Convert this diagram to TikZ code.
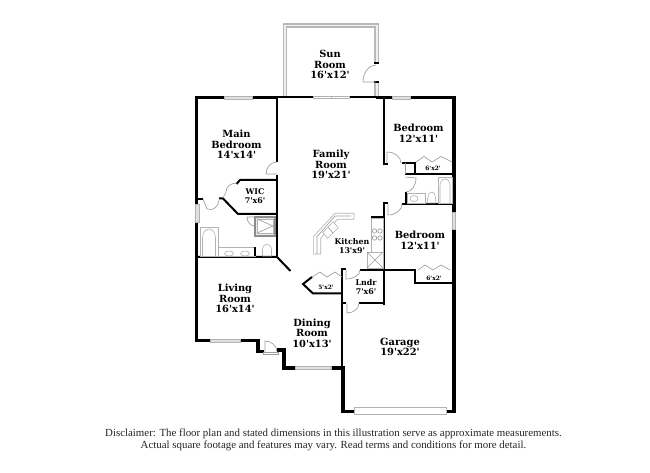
\documentclass[tikz,border=0pt]{standalone}
\usepackage{fontspec}
\newfontfamily\labfont{DejaVu Serif}
\newfontfamily\discfont{Liberation Serif}
\tikzset{
  x=0.75pt,y=-0.75pt,
  heavy/.style={line width=2.4pt,black,line cap=butt},
  medium/.style={line width=1.5pt,black,line cap=butt,line join=miter},
  thin wall/.style={line width=1.1pt,black},
  glaze/.style={draw=black!30,fill=black!12,line width=0.4pt},
  fixture/.style={draw=black!30,line width=0.45pt,fill=white},
  door/.style={draw=black!38,line width=0.5pt},
  gwall/.style={draw=black!28,line width=3.6pt,line join=miter},
  gcore/.style={draw=black!6,line width=1.4pt,line join=miter},
  lab/.style={font=\labfont\fontsize{7.4pt}{7.9pt}\selectfont\bfseries,align=center,inner sep=0pt},
  smalllab/.style={font=\labfont\fontsize{5.9pt}{6.8pt}\selectfont\bfseries,align=center,inner sep=0pt},
  tinylab/.style={font=\labfont\fontsize{4.4pt}{5pt}\selectfont\bfseries,align=center,inner sep=0pt},
  disc/.style={font=\discfont\fontsize{8.15pt}{9pt}\selectfont,text=black!85,anchor=center,inner sep=0pt}
}
\begin{document}
\begin{tikzpicture}
\useasboundingbox (0,0) rectangle (650,473);
\fill[white] (0,0) rectangle (650,473);
% sun room
\draw[gwall] (285,97)--(285,25.5)--(376.7,25.5)--(376.7,97);
\draw[gcore] (285,97)--(285,25.5)--(376.7,25.5)--(376.7,97);
\fill[white] (373.5,63) rectangle (380,82);
\draw[medium] (374,63)--(379,63) (374,82)--(379,82);
\draw[door] (376,82)--(363,82) (363,82) arc (-180:-90:13 and 17);
% outer walls
\draw[heavy] (277,97.5)--(196.5,97.5)--(196.5,342);
\draw[heavy] (376,97.5)--(454,97.5)--(454,413);
\draw[heavy] (196.5,340.5)--(258,340.5)--(258,351.5)--(264,351.5);
\draw[heavy] (277,350)--(284,350)--(284,368)--(296,368);
\draw[heavy] (330,368)--(343,368);
\draw[heavy] (343,366)--(343,411.5)--(355,411.5);
\draw[heavy] (445,411.5)--(455,411.5);
\draw[medium] (277,97.5)--(313,97.5) (349,97.5)--(376,97.5);
% windows and doors in the shell
\draw[glaze] (224,96) rectangle (252,99);
\draw[glaze] (392,96) rectangle (410,99);
\draw[glaze] (195.5,204) rectangle (199,222);
\draw[glaze] (452.5,212) rectangle (455.5,229);
\draw[glaze] (210,339) rectangle (240,342);
\draw[glaze] (295,366.5) rectangle (331,369.5);
\draw[fixture,fill=white] (354,407) rectangle (446,414);
\draw[draw=black!30,fill=white,line width=0.4pt] (313,96.5) rectangle (331,98.5);
\draw[draw=black!30,fill=white,line width=0.4pt] (331,96.5) rectangle (349,98.5);
\draw[door,fill=white] (263,352) rectangle (278,354);
\draw[door] (265,352)--(265,341) (265,341) arc (-90:0:12 and 11);
% family/main bedroom partition
\draw[thin wall] (277,97)--(277,162) (277,175)--(277,257);
\draw[door] (277,162) arc (-90:-180:11 and 12)--(277,174);
\draw[medium] (196,257)--(277,257)--(290.5,271);
% WIC
\draw[medium] (277,180)--(240,180)--(236.5,184);
\draw[medium] (277,214)--(238,214)--(223,198.5)--(219,198.5);
\draw[medium] (198,199)--(203,199);
\draw[door] (203,199)--(207,209) arc (-250:-350:9 and 11);
\draw[door] (237,183) .. controls (230,183) and (226,187) .. (226,192)--(223,198);
% bath
\draw[fixture] (200,227) rectangle (218,256);
\draw[fixture] (202.5,256)--(202.5,238) arc (-180:0:6.5 and 9)--(215.5,256);
\draw[fixture] (218,247) rectangle (255,256);
\draw[fixture] (229,253.5) ellipse (4.5 and 2.5) (245,253.5) ellipse (4.5 and 2.5);
\draw[medium] (255,247)--(255,256.5);
\draw[fixture] (262.5,256)--(262.5,250) arc (-180:0:4.5 and 6)--(271.5,256)--cycle;
\draw[draw=black!45,fill=black!8,line width=0.9pt] (255,217) rectangle (275,236);
\draw[fixture] (257,219) rectangle (273,233);
\draw[door] (257,219)--(273,226)--(257,233);
\draw[door] (247,217)--(255,217) (247,217) arc (-180:-270:8 and 9);
% right partition
\draw[medium] (383.5,97)--(383.5,164) (383.5,202)--(383.5,305);
\draw[medium] (383,164.5)--(388,164.5) (383,203.5)--(388,203.5);
\draw[door] (387,163)--(387,152) (387,152) arc (-90:0:14 and 11);
% upper closet and bath
\draw[medium] (401.5,162.7)--(415,162.7)--(415,174.5);
\draw[medium] (405,174.5)--(455,174.5);
\draw[medium] (406,192)--(406,204.5);
\draw[medium] (402,204.5)--(455,204.5);
\draw[door] (405,162.7) -- (405,174);
\draw[door] (405.5,177)--(416,178) arc (0:90:10 and 14);
\draw[door] (416,162)--(424,156.5)--(432,162)--(441,156.5)--(452,162);
\node[tinylab] (closeta) at (433,168.5) {6'x2'};
\draw[fixture] (438,177) rectangle (452,203);
\draw[fixture] (440,203)--(440,186) arc (-180:0:5 and 7)--(450,203);
\draw[fixture] (407.5,193) rectangle (425,203);
\draw[fixture] (414,198.5) ellipse (4 and 3);
\draw[fixture] (427,203)--(428,197) arc (-180:0:3.7 and 5)--(436,203)--cycle;
\draw[door] (388,204.5)--(388,215) arc (-270:-360:14 and 11);
% kitchen
\draw[medium] (371,217)--(384,217);
\draw[fixture] (371,218) rectangle (383,252);
\foreach \cx/\cy in {374.5/231,380/231,374.5/238,380/238}{\draw[door] (\cx,\cy) circle (2.2);}
\draw[fixture] (367,252) rectangle (383,268);
\draw[door] (367,252)--(383,268) (367,268)--(383,252);
\draw[fixture] (335,213.3)--(354,213.3)--(354,219.3)--(337.3,219.3)--(320.7,238.3)--(320.7,254)--(313.3,254)--(313.3,236.7)--cycle;
\draw[door] (335,216)--(351,216) (335,216)--(317,236.7)--(317,254);
\draw[fixture] (322.7,232.7)--(333.3,221.7)--(338.3,227.7)--(327.7,238.3)--cycle;
\draw[door] (328,227.2)--(333,233);
% laundry
\draw[medium] (342,268.5)--(342,367);
\draw[medium] (342,269.5)--(346,269.5) (360,270)--(415,270)--(415,283)--(455,283);
\draw[door] (346,269.5)--(346,279) arc (-270:-360:14 and 9);
\draw[door] (418,270)--(425,265)--(433,270)--(441,265)--(450,270);
\node[tinylab] (closetb) at (434,278) {6'x2'};
\draw[medium] (342,303.5)--(346,303.5) (359,303.5)--(384,303.5);
\draw[door] (347,303.5)--(347,313) arc (-270:-360:12 and 10);
% pantry
\draw[medium] (342,293.5)--(313,293.5)--(303,284)--(312,277);
\draw[door] (312,277)--(320,272)--(327,277)--(335,272)--(342,277);
\node[tinylab] (pantry) at (326,287) {5'x2'};
% labels
\node[lab] (sun) at (330,64.5) {Sun\\Room\\16'x12'};
\node[lab] (main) at (236.5,144.5) {Main\\Bedroom\\14'x14'};
\node[lab] (family) at (331,164.5) {Family\\Room\\19'x21'};
\node[lab] (bedone) at (418.5,133.5) {Bedroom\\12'x11'};
\node[smalllab] (wic) at (255,196.5) {WIC\\7'x6'};
\node[smalllab] (kitchen) at (352,246.5) {Kitchen\\13'x9'};
\node[lab] (bedtwo) at (420,240.5) {Bedroom\\12'x11'};
\node[smalllab] (lndr) at (366,287.5) {Lndr\\7'x6'};
\node[lab] (living) at (235,298.5) {Living\\Room\\16'x14'};
\node[lab] (dining) at (312,333) {Dining\\Room\\10'x13'};
\node[lab] (garage) at (400,347) {Garage\\19'x22'};
\node[disc] (dl) at (333.5,433.5) {Disclaimer: The floor plan and stated dimensions in this illustration serve as approximate measurements.};
\node[disc] (dm) at (333.5,445.5) {Actual square footage and features may vary. Read terms and conditions for more detail.};
\end{tikzpicture}
\end{document}
